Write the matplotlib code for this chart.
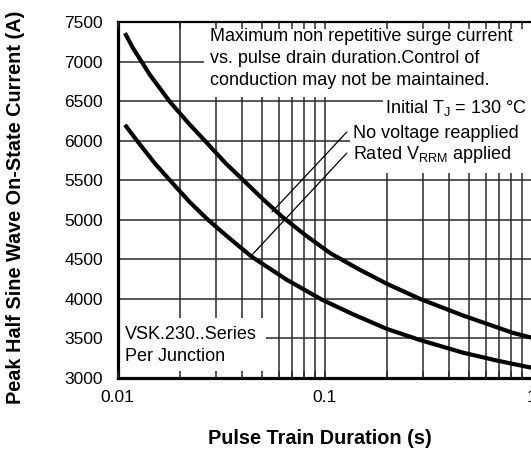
import numpy as np
import matplotlib.pyplot as plt
from matplotlib.patches import Rectangle
from matplotlib.ticker import LogLocator, NullFormatter

plt.rcParams['font.family'] = ['Liberation Sans', 'DejaVu Sans']
plt.rcParams['mathtext.fontset'] = 'custom'
plt.rcParams['mathtext.rm'] = 'Liberation Sans'

# no voltage reapplied
t_upper = [0.01087, 0.01188, 0.01436, 0.01793, 0.0224, 0.02706, 0.03343, 0.04128, 0.05045,
           0.06233, 0.0814, 0.1063, 0.1452, 0.2004, 0.2893, 0.4668, 0.8141, 1.0]
i_upper = [7360, 7170, 6830, 6490, 6200, 5970, 5710, 5480, 5260,
           5040, 4800, 4580, 4380, 4190, 4000, 3790, 3570, 3510]
# rated VRRM applied
t_lower = [0.01087, 0.01242, 0.01518, 0.01834, 0.0224, 0.02736, 0.03495, 0.04466,
           0.0659, 0.0972, 0.1388, 0.2004, 0.2893, 0.4668, 0.6813, 1.0]
i_lower = [6200, 6000, 5710, 5470, 5220, 5000, 4760, 4530,
           4240, 3990, 3800, 3620, 3480, 3320, 3220, 3130]

y_ticks = [3000, 3500, 4000, 4500, 5000, 5500, 6000, 6500, 7000, 7500]
x_ticks = [0.01, 0.1, 1]
x_labels = ["0.01", "0.1", "1"]

fig = plt.figure(figsize=(5.31, 4.51), dpi=100)
rect = [117.5 / 531, 73 / 451, 414 / 531, 356 / 451]
ax = fig.add_axes(rect)
ax.set_xscale('log')
ax.set_xlim(0.01, 1)
ax.set_ylim(3000, 7500)
ax.set_yticks(y_ticks)
ax.set_xticks(x_ticks)
ax.set_xticklabels(x_labels)
ax.xaxis.set_minor_locator(LogLocator(base=10, subs=np.arange(2, 10)))
ax.xaxis.set_minor_formatter(NullFormatter())
ax.set_axisbelow(True)
ax.grid(True, which='both', color='#2a2a2a', lw=1.1)
ax.tick_params(axis='both', which='both', length=0, labelsize=12.5)
ax.tick_params(axis='y', pad=10.5)
ax.tick_params(axis='x', pad=9)
for side in ['left', 'bottom']:
    ax.spines[side].set_linewidth(2.3)
ax.spines['top'].set_linewidth(1.6)
ax.spines['right'].set_visible(False)

# white areas behind the notes
for x0, y0, w, h in [(0.209, 0.789, 0.8, 0.22), (0.641, 0.73, 0.37, 0.06),
                     (0.5616, 0.576, 0.45, 0.155), (0.0, 0.0, 0.358, 0.1685)]:
    ax.add_patch(Rectangle((x0, y0), w, h, transform=ax.transAxes,
                           facecolor='white', edgecolor='none', zorder=1))

ax.plot(t_upper, i_upper, color='black', lw=3, zorder=2, solid_capstyle='butt')
ax.plot(t_lower, i_lower, color='black', lw=3, zorder=2, solid_capstyle='butt')

fs = 13
notes = [
    (0.2234, 0.958, "Maximum non repetitive surge current"),
    (0.2234, 0.898, "vs. pulse drain duration.Control of"),
    (0.2234, 0.837, "conduction may not be maintained."),
    (0.646, 0.758, r"Initial T$_\mathregular{J}$ = 130 °C"),
    (0.569, 0.688, "No voltage reapplied"),
    (0.569, 0.627, r"Rated V$_\mathregular{RRM}$ applied"),
    (0.018, 0.121, "VSK.230..Series"),
    (0.018, 0.059, "Per Junction"),
]
for x, y, s in notes:
    ax.text(x, y, s, transform=ax.transAxes, fontsize=fs, va='center', ha='left', zorder=3)

# leader lines to the curves
ax.annotate('', xy=(0.0558, 5100), xycoords='data', xytext=(0.554, 0.691),
            textcoords='axes fraction',
            arrowprops=dict(arrowstyle='-', lw=0.9, color='black', shrinkA=0, shrinkB=0))
ax.annotate('', xy=(0.0437, 4530), xycoords='data', xytext=(0.554, 0.632),
            textcoords='axes fraction',
            arrowprops=dict(arrowstyle='-', lw=0.9, color='black', shrinkA=0, shrinkB=0))

# tick marks drawn on top of the white areas
ax2 = fig.add_axes(rect, facecolor='none', zorder=5)
ax2.set_xscale('log')
ax2.set_xlim(0.01, 1)
ax2.xaxis.set_minor_locator(LogLocator(base=10, subs=np.arange(2, 10)))
ax2.xaxis.set_minor_formatter(NullFormatter())
ax2.set_xticks(x_ticks)
ax2.set_yticks([])
ax2.tick_params(axis='x', which='both', direction='in', top=True, bottom=True,
                labelbottom=False, length=5, width=1.1, color='#2a2a2a')
for s in ax2.spines.values():
    s.set_visible(False)

fig.text(320 / 531, 1 - 438 / 451, "Pulse Train Duration (s)",
         fontsize=14.3, fontweight='bold', ha='center', va='center')
fig.text(16 / 531, 1 - 207 / 451, "Peak Half Sine Wave On-State Current (A)",
         fontsize=14.3, fontweight='bold', ha='center', va='center', rotation=90)

fig.savefig('out.png', dpi=100)
